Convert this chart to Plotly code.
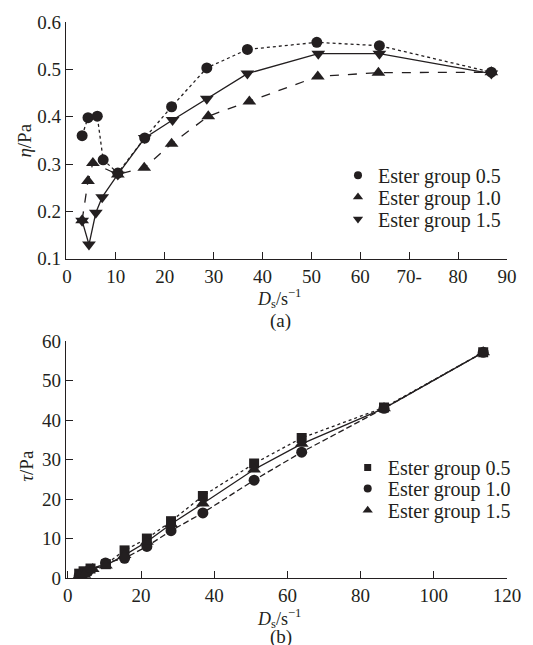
import plotly.graph_objects as go

# ---------------- data (a) viscosity ----------------
x_a_05 = [3.1, 4.3, 6.2, 7.4, 10.4, 15.9, 21.4, 28.6, 36.9, 51.1, 63.9, 86.8]
eta_05 = [0.360, 0.398, 0.401, 0.309, 0.281, 0.355, 0.421, 0.503, 0.542, 0.557, 0.550, 0.494]
x_a_10 = [3.1, 4.3, 5.3, 10.4, 15.8, 21.4, 28.9, 37.3, 51.3, 63.7, 86.8]
eta_10 = [0.181, 0.264, 0.302, 0.278, 0.292, 0.343, 0.401, 0.432, 0.485, 0.493, 0.494]
x_a_15 = [3.1, 4.5, 5.9, 7.2, 10.4, 15.9, 21.6, 28.6, 36.9, 51.4, 63.9, 86.8]
eta_15 = [0.180, 0.130, 0.197, 0.230, 0.278, 0.355, 0.393, 0.438, 0.491, 0.533, 0.533, 0.491]

# ---------------- data (b) shear stress ----------------
x_b_05 = [3.1, 4.3, 6.2, 10.4, 15.5, 21.6, 28.2, 36.9, 50.9, 63.9, 86.4, 113.5]
tau_05 = [1.1, 1.7, 2.4, 3.5, 7.0, 10.0, 14.4, 20.8, 29.0, 35.5, 43.2, 57.2]
x_b_10 = [3.1, 4.3, 5.5, 10.3, 15.5, 21.6, 28.2, 36.9, 50.9, 63.9, 86.4, 113.5]
tau_10 = [0.6, 1.1, 1.7, 3.8, 5.0, 8.0, 12.0, 16.5, 24.8, 31.9, 43.0, 57.2]
x_b_15 = [3.1, 4.5, 6.8, 10.4, 15.5, 21.6, 28.2, 36.9, 50.9, 63.9, 86.4, 113.5]
tau_15 = [0.6, 0.8, 2.3, 3.2, 5.8, 9.2, 13.7, 18.9, 27.5, 34.0, 43.0, 57.2]

labels = ["Ester group 0.5", "Ester group 1.0", "Ester group 1.5"]
xticks_a = [0, 10, 20, 30, 40, 50, 60, 70, 80, 90]
xticktext_a = ["0", "10", "20", "30", "40", "50", "60", "70-", "80", "90"]
yticks_a = [0.1, 0.2, 0.3, 0.4, 0.5, 0.6]
xticks_b = [0, 20, 40, 60, 80, 100, 120]
yticks_b = [0, 10, 20, 30, 40, 50, 60]

INK = "#231f20"
FONT = "Liberation Serif, Times New Roman, serif"
LW = 1.3

L, R, T, B = 66, 13, 19, 67
W, H = 533, 645
ph = H - T - B


def py(p):
    return (H - B - p) / ph


def px(p):
    return (p - L) / (W - L - R)


fig = go.Figure()


def add_series(x, y, symbol, size, dash, xa, ya, name, legend):
    fig.add_trace(go.Scatter(
        x=x, y=y, mode="lines+markers", xaxis=xa, yaxis=ya,
        line=dict(color=INK, width=LW, dash=dash),
        marker=dict(symbol=symbol, size=size, color=INK),
        showlegend=False, hoverinfo="x+y"))
    fig.add_trace(go.Scatter(
        x=[None], y=[None], mode="markers", xaxis=xa, yaxis=ya,
        marker=dict(symbol=symbol, size=size - 3, color=INK),
        name=name, legend=legend, showlegend=True))


# (a)
add_series(x_a_05, eta_05, "circle", 11, "dot", "x", "y", labels[0], "legend")
add_series(x_a_10, eta_10, "triangle-up", 12, "dash", "x", "y", labels[1], "legend2")
add_series(x_a_15, eta_15, "triangle-down", 12, "solid", "x", "y", labels[2], "legend3")
# (b)
add_series(x_b_05, tau_05, "square", 10, "dot", "x2", "y2", labels[0], "legend4")
add_series(x_b_10, tau_10, "circle", 11, "6px,3px", "x2", "y2", labels[1], "legend5")
add_series(x_b_15, tau_15, "triangle-up", 12, "solid", "x2", "y2", labels[2], "legend6")

axis_common = dict(showgrid=False, zeroline=False, showline=True, linecolor=INK,
                   linewidth=LW, ticks="inside", ticklen=7, tickwidth=LW,
                   tickcolor=INK, tickfont=dict(family=FONT, size=19, color=INK))


def leg(xp, yp):
    return dict(x=px(xp), y=py(yp), xanchor="left", yanchor="middle",
                font=dict(family=FONT, size=20, color=INK), bgcolor="rgba(0,0,0,0)",
                itemwidth=30, tracegroupgap=0, borderwidth=0)


fig.update_layout(
    width=W, height=H,
    margin=dict(l=L, r=R, t=T, b=B),
    paper_bgcolor="white", plot_bgcolor="white",
    font=dict(family=FONT, color=INK, size=19),
    xaxis=dict(axis_common, domain=[0, 1], anchor="y", range=[-0.2, 90],
               tickvals=xticks_a, ticktext=xticktext_a),
    yaxis=dict(axis_common, domain=[py(257), 1], anchor="x", range=[0.1, 0.6],
               tickvals=yticks_a, ticktext=["0.1", "0.2", "0.3", "0.4", "0.5", "0.6"]),
    xaxis2=dict(axis_common, domain=[0, 1], anchor="y2", range=[-0.5, 120],
                tickvals=xticks_b),
    yaxis2=dict(axis_common, domain=[0, py(340)], anchor="x2", range=[0, 60],
                tickvals=yticks_b),
    legend=leg(346, 173),
    legend2=leg(346, 195),
    legend3=leg(346, 217),
    legend4=leg(356, 467),
    legend5=leg(356, 488),
    legend6=leg(356, 510),
)

ann_font = dict(family=FONT, size=19, color=INK)
title_font = dict(family=FONT, size=18, color=INK)
fig.add_annotation(text="<i>η</i>/Pa", x=px(23), y=py(138), xref="paper", yref="paper",
                   xanchor="center", yanchor="middle",
                   showarrow=False, textangle=-90, font=ann_font)
fig.add_annotation(text="<i>τ</i>/Pa", x=px(25), y=py(465), xref="paper", yref="paper",
                   xanchor="center", yanchor="middle",
                   showarrow=False, textangle=-90, font=ann_font)
fig.add_annotation(text="<i>D</i><sub>s</sub>/s<sup>−1</sup>", x=px(285), y=py(297),
                   xref="paper", yref="paper", xanchor="center", yanchor="middle",
                   showarrow=False, font=title_font)
fig.add_annotation(text="(a)", x=px(287), y=py(320), xref="paper", yref="paper",
                   xanchor="center", yanchor="middle", showarrow=False, font=ann_font)
fig.add_annotation(text="<i>D</i><sub>s</sub>/s<sup>−1</sup>", x=px(285), y=py(619),
                   xref="paper", yref="paper", xanchor="center", yanchor="middle",
                   showarrow=False, font=title_font)
fig.add_annotation(text="(b)", x=px(287), y=py(637), xref="paper", yref="paper",
                   xanchor="center", yanchor="middle", showarrow=False, font=ann_font)

fig.write_html("out.html", config={"displayModeBar": False},
               post_script="document.body.style.margin='0';document.body.style.padding='0';")
